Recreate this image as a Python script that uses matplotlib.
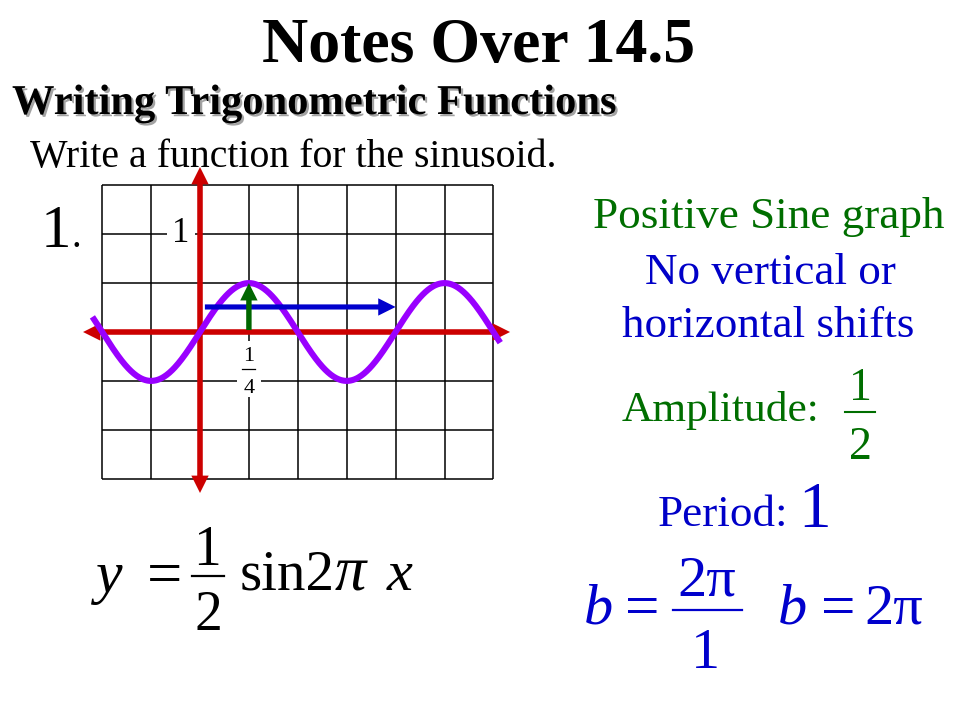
import numpy as np
import matplotlib
matplotlib.use("Agg")
import matplotlib.pyplot as plt
import matplotlib.patheffects as pe
from matplotlib.patches import FancyArrowPatch, ArrowStyle, Rectangle

# ---------------- data ----------------
AMPLITUDE = 0.5          # (peak one half-unit cell)
PERIOD = 1.0             # (four quarter-unit cells)
CURVE_X_RANGE = [-0.55, 1.535]
GRID_X = [-0.5, -0.25, 0.0, 0.25, 0.5, 0.75, 1.0, 1.25, 1.5]
GRID_Y = [-1.5, -1.0, -0.5, 0.0, 0.5, 1.0, 1.5]
X_AXIS_RANGE = [-0.598, 1.585]
Y_AXIS_RANGE = [-1.646, 1.687]
Y_TICK = 1.0
Y_TICK_LABEL = "1"
X_TICK = 0.25
X_TICK_NUM, X_TICK_DEN = "1", "4"
PERIOD_ARROW = [0.025, 1.0, 0.256]      # x0, x1, y
AMPL_ARROW = [0.25, 0.02, 0.5]          # x, y0, y1

TITLE = "Notes Over 14.5"
HEADING = "Writing Trigonometric Functions"
PROMPT = "Write a function for the sinusoid."
NOTES = ["Positive Sine graph", "No vertical or", "horizontal shifts"]

# ---------------- colours ----------------
RED = "#CC0000"
PURPLE = "#9900FF"
BLUE = "#0000CC"
GREEN = "#006600"
TXT_GREEN = "#006E00"
TXT_BLUE = "#0000C8"

SERIF = "Liberation Serif"
plt.rcParams["font.family"] = [SERIF, "DejaVu Serif"]

fig = plt.figure(figsize=(9.6, 7.2), dpi=100)
fig.patch.set_facecolor("white")

# overlay axes in pixel coordinates for slide text
tax = fig.add_axes([0, 0, 1, 1])
tax.set_xlim(0, 960)
tax.set_ylim(720, 0)
tax.axis("off")

# ---------------- graph axes ----------------
ORIGIN_PX = (200.0, 332.0)
PX_PER_X = 195.6
PX_PER_Y = 97.8
L, R, T, B = 75, 520, 160, 500
ax = fig.add_axes([L / 960, (720 - B) / 720, (R - L) / 960, (B - T) / 720])
ax.set_xlim((L - ORIGIN_PX[0]) / PX_PER_X, (R - ORIGIN_PX[0]) / PX_PER_X)
ax.set_ylim((ORIGIN_PX[1] - B) / PX_PER_Y, (ORIGIN_PX[1] - T) / PX_PER_Y)
ax.axis("off")


def dx(px):
    return (px - ORIGIN_PX[0]) / PX_PER_X


def dy(py):
    return (ORIGIN_PX[1] - py) / PX_PER_Y


# grid
for gx in GRID_X:
    ax.plot([gx, gx], [GRID_Y[0], GRID_Y[-1]], color="black", lw=1.1, zorder=1,
            solid_capstyle="butt")
for gy in GRID_Y:
    ax.plot([GRID_X[0], GRID_X[-1]], [gy, gy], color="black", lw=1.1, zorder=1,
            solid_capstyle="butt")

# tick labels with white background
ax.text(dx(181), dy(233), Y_TICK_LABEL, fontsize=25, ha="center", va="center",
        family=SERIF, zorder=2,
        bbox=dict(boxstyle="square,pad=0.15", fc="white", ec="none"))
ax.add_patch(Rectangle((dx(237), dy(397)), dx(261) - dx(237), dy(341) - dy(397),
                       fc="white", ec="none", zorder=2))
ax.text(X_TICK, dy(361), X_TICK_NUM, fontsize=16, ha="center", va="baseline",
        family=SERIF, zorder=3)
ax.plot([X_TICK - 0.033, X_TICK + 0.033], [dy(369), dy(369)], color="black", lw=0.9, zorder=4)
ax.text(X_TICK, dy(393), X_TICK_DEN, fontsize=16, ha="center", va="baseline",
        family=SERIF, zorder=3)


def arrow(p0, p1, color, tail, head_len=12.5, head_w=12.5, z=5):
    st = ArrowStyle.Simple(head_length=head_len, head_width=head_w, tail_width=tail)
    a = FancyArrowPatch(p0, p1, arrowstyle=st, mutation_scale=1, color=color,
                        lw=0, shrinkA=0, shrinkB=0, zorder=z)
    ax.add_patch(a)


# red axes (double headed)
arrow((0, 0), (X_AXIS_RANGE[1], 0), RED, 4.0, z=5)
arrow((0, 0), (X_AXIS_RANGE[0], 0), RED, 4.0, z=5)
arrow((0, 0), (0, Y_AXIS_RANGE[1]), RED, 4.0, z=5)
arrow((0, 0), (0, Y_AXIS_RANGE[0]), RED, 4.0, z=5)

# sinusoid
xs = np.linspace(CURVE_X_RANGE[0], CURVE_X_RANGE[1], 600)
ys = AMPLITUDE * np.sin(2 * np.pi * xs / PERIOD)
ax.plot(xs, ys, color=PURPLE, lw=4.4, zorder=6, solid_capstyle="butt")

# period arrow (blue) and amplitude arrow (green)
arrow((PERIOD_ARROW[0], PERIOD_ARROW[2]), (PERIOD_ARROW[1], PERIOD_ARROW[2]), BLUE, 3.7, z=7)
arrow((AMPL_ARROW[0], AMPL_ARROW[1]), (AMPL_ARROW[0], AMPL_ARROW[2]), GREEN, 3.9, z=8)

# ---------------- slide text ----------------
tax.text(479, 62, TITLE, fontsize=46, fontweight="bold", ha="center", va="baseline")
tax.text(12, 114, HEADING, fontsize=30.6, fontweight="bold", ha="left", va="baseline",
         path_effects=[pe.SimplePatchShadow(offset=(1.6, -1.6), shadow_rgbFace="#8c8c8c",
                                            alpha=0.8), pe.Normal()])
tax.text(30, 167, PROMPT, fontsize=28.6, ha="left", va="baseline")
tax.text(41, 247, "1", fontsize=44, ha="left", va="baseline")
tax.text(71, 247, ".", fontsize=28, ha="left", va="baseline")

tax.text(769, 228, NOTES[0], fontsize=32.5, ha="center", va="baseline", color=TXT_GREEN)
tax.text(770, 284, NOTES[1], fontsize=32.5, ha="center", va="baseline", color=TXT_BLUE)
tax.text(768, 337, NOTES[2], fontsize=32.5, ha="center", va="baseline", color=TXT_BLUE)

tax.text(622, 421, "Amplitude:", fontsize=31.2, ha="left", va="baseline", color=TXT_GREEN)
tax.text(860, 400, "1", fontsize=33, ha="center", va="baseline", color=TXT_GREEN)
tax.plot([845, 875], [412, 412], color=TXT_GREEN, lw=1.5)
tax.text(860, 459, "2", fontsize=33, ha="center", va="baseline", color=TXT_GREEN)

tax.text(658, 526, "Period:", fontsize=32.5, ha="left", va="baseline", color=TXT_BLUE)
tax.text(815, 527, "1", fontsize=47, ha="center", va="baseline", color=TXT_BLUE)

# black formula y = 1/2 sin 2 pi x
F = 41
tax.text(96, 592, "y", fontsize=F + 2, style="italic", ha="left", va="baseline")
tax.text(164, 594, "=", fontsize=F + 4, ha="center", va="baseline")
tax.text(207, 565, "1", fontsize=40, ha="center", va="baseline")
tax.plot([192, 224], [576, 576], color="black", lw=1.6)
tax.text(208, 630, "2", fontsize=40, ha="center", va="baseline")
tax.text(240, 590, "sin2", fontsize=F, ha="left", va="baseline")
tax.text(335, 590, "\u03c0", fontsize=F + 4, style="italic", ha="left", va="baseline")
tax.text(387, 590, "x", fontsize=F + 1, style="italic", ha="left", va="baseline")

# blue formula b = 2pi/1   b = 2pi
G = 42
tax.text(584, 624, "b", fontsize=G, style="italic", ha="left", va="baseline", color=BLUE)
tax.text(642, 626, "=", fontsize=G + 2, ha="center", va="baseline", color=BLUE)
tax.text(707, 595, "2\u03c0", fontsize=G, ha="center", va="baseline", color=BLUE)
tax.plot([673, 742], [610, 610], color=BLUE, lw=1.6)
tax.text(705, 668, "1", fontsize=G, ha="center", va="baseline", color=BLUE)
tax.text(778, 624, "b", fontsize=G, style="italic", ha="left", va="baseline", color=BLUE)
tax.text(838, 626, "=", fontsize=G + 2, ha="center", va="baseline", color=BLUE)
tax.text(864, 624, "2\u03c0", fontsize=G, ha="left", va="baseline", color=BLUE)

fig.savefig("out.png", dpi=100, facecolor="white")
